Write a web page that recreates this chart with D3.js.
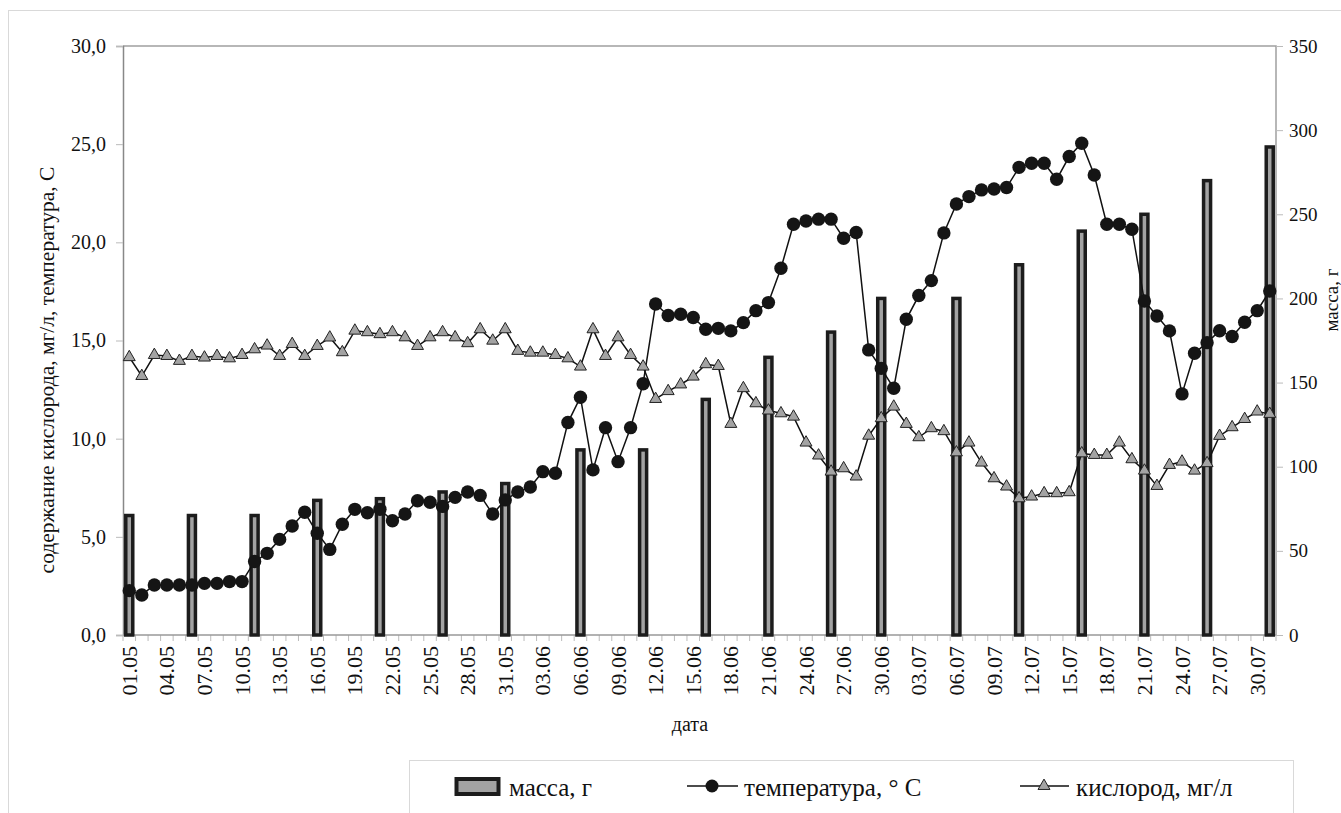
<!DOCTYPE html>
<html>
<head>
<meta charset="utf-8">
<script src="https://cdn.jsdelivr.net/npm/d3@7"></script>
<style>
  body { margin: 0; background: #fff; }
</style>
</head>
<body>
<div id="chart"></div>
<script>
// dates 01.05 .. 31.07
var months = [['05', 31], ['06', 30], ['07', 31]];
var dates = [];
months.forEach(function (m) {
  for (var d = 1; d <= m[1]; d++) dates.push((d < 10 ? '0' : '') + d + '.' + m[0]);
});

var temperature = [
  2.26, 2.04, 2.55, 2.55, 2.55, 2.55, 2.63, 2.63, 2.72, 2.72,
  3.74, 4.16, 4.87, 5.55, 6.25, 5.18, 4.36, 5.64, 6.40, 6.23,
  6.40, 5.82, 6.16, 6.84, 6.76, 6.55, 7.01, 7.28, 7.11, 6.16,
  6.88, 7.28, 7.54, 8.32, 8.24, 10.82, 12.11, 8.41, 10.56, 8.83,
  10.56, 12.80, 16.86, 16.27, 16.34, 16.17, 15.57, 15.62, 15.49, 15.91,
  16.52, 16.93, 18.68, 20.92, 21.09, 21.18, 21.18, 20.21, 20.50, 14.52,
  13.58, 12.57, 16.08, 17.29, 18.05, 20.48, 21.95, 22.33, 22.67, 22.72,
  22.79, 23.82, 24.03, 24.03, 23.21, 24.37, 25.05, 23.43, 20.92, 20.92,
  20.67, 17.01, 16.25, 15.49, 12.28, 14.35, 14.89, 15.50, 15.20, 15.93,
  16.52, 17.52
];

var oxygen = [
  14.15, 13.19, 14.26, 14.21, 13.96, 14.21, 14.13, 14.21, 14.09, 14.26,
  14.55, 14.74, 14.21, 14.82, 14.21, 14.72, 15.15, 14.40, 15.50, 15.42,
  15.32, 15.42, 15.16, 14.72, 15.16, 15.42, 15.16, 14.86, 15.57, 14.99,
  15.57, 14.47, 14.38, 14.38, 14.26, 14.09, 13.67, 15.57, 14.21, 15.16,
  14.26, 13.67, 12.02, 12.42, 12.76, 13.16, 13.79, 13.70, 10.75, 12.57,
  11.80, 11.43, 11.29, 11.12, 9.80, 9.14, 8.32, 8.49, 8.07, 10.15,
  11.04, 11.63, 10.75, 10.07, 10.53, 10.38, 9.30, 9.80, 8.78, 7.98,
  7.56, 6.96, 7.05, 7.22, 7.22, 7.27, 9.25, 9.17, 9.17, 9.80,
  8.95, 8.37, 7.59, 8.66, 8.83, 8.37, 8.75, 10.14, 10.58, 11.00,
  11.38, 11.26
];

var massDates = ['01.05', '06.05', '11.05', '16.05', '21.05', '26.05', '31.05', '06.06', '11.06', '16.06',
  '21.06', '26.06', '30.06', '06.07', '11.07', '16.07', '21.07', '26.07', '31.07'];
var massValues = [71, 71, 71, 80, 81, 85, 90, 110, 110, 140,
  165, 180, 200, 200, 220, 240, 250, 270, 290];

var leftTicks = [0, 5, 10, 15, 20, 25, 30];
var rightTicks = [0, 50, 100, 150, 200, 250, 300, 350];

var W = 1341, H = 813;
var L = 123, R = 1276, T = 46, B = 635;
var serif = 'Liberation Serif, Times New Roman, Tinos, Times, Noto Serif, DejaVu Serif, serif';

var svg = d3.select('#chart').append('svg')
  .attr('width', W).attr('height', H);

// outer frame
svg.append('rect').attr('x', 8.5).attr('y', 10.5).attr('width', 1400).attr('height', 900)
  .attr('fill', 'none').attr('stroke', '#d9d9d9');

var x = d3.scaleBand().domain(dates).range([L, R]).paddingInner(0).paddingOuter(0);
var yL = d3.scaleLinear().domain([0, 30]).range([B, T]);
var yR = d3.scaleLinear().domain([0, 350]).range([B, T]);
var cx = function (d) { return x(d) + x.bandwidth() / 2; };

// plot frame
svg.append('path')
  .attr('d', 'M' + L + ',' + T + 'H' + R + 'V' + B)
  .attr('fill', 'none').attr('stroke', '#a0a0a0').attr('stroke-width', 1.5);

// left axis
var axL = svg.append('g').attr('transform', 'translate(' + L + ',0)')
  .call(d3.axisLeft(yL).tickValues(leftTicks).tickSize(7).tickPadding(10)
    .tickFormat(function (d) { return d3.format('.1f')(d).replace('.', ','); }));
axL.attr('font-family', null).attr('font-size', null);
axL.select('.domain').attr('stroke', '#888').attr('stroke-width', 1.5);
axL.selectAll('.tick line').attr('stroke', '#bbb');
axL.selectAll('text').attr('font-size', 20).attr('font-family', serif).attr('fill', '#111');

// right axis
var axR = svg.append('g').attr('transform', 'translate(' + R + ',0)')
  .call(d3.axisRight(yR).tickValues(rightTicks).tickSize(7).tickPadding(6));
axR.attr('font-family', null).attr('font-size', null);
axR.select('.domain').remove();
axR.selectAll('.tick line').attr('stroke', '#bbb');
axR.selectAll('text').attr('font-size', 19).attr('font-family', serif).attr('fill', '#111');

// bottom axis: ticks at every category boundary
var xb = svg.append('g').attr('transform', 'translate(0,' + B + ')');
xb.selectAll('line.tk').data(dates).enter().append('line')
  .attr('x1', function (d) { return x(d); }).attr('x2', function (d) { return x(d); })
  .attr('y1', 0).attr('y2', 6).attr('stroke', '#bbb');
xb.append('line').attr('x1', R).attr('x2', R).attr('y1', 0).attr('y2', 6).attr('stroke', '#bbb');
xb.append('line').attr('x1', L).attr('x2', R).attr('stroke', '#999').attr('stroke-width', 1.5);
xb.selectAll('text.lab').data(dates.filter(function (d, i) { return i % 3 === 0; }))
  .enter().append('text')
  .attr('transform', function (d) { return 'translate(' + cx(d) + ',11) rotate(-90)'; })
  .attr('text-anchor', 'end').attr('dominant-baseline', 'central')
  .attr('font-size', 22).attr('font-family', serif).attr('fill', '#111')
  .text(function (d) { return d; });

// bars (mass)
var bw = 7;
svg.append('g').selectAll('rect').data(massDates).enter().append('rect')
  .attr('x', function (d) { return cx(d) - bw / 2; })
  .attr('y', function (d, i) { return yR(massValues[i]); })
  .attr('width', bw)
  .attr('height', function (d, i) { return B - yR(massValues[i]); })
  .attr('fill', '#a3a3a3').attr('stroke', '#1c1c1c').attr('stroke-width', 3.5);

// temperature
var lineT = d3.line().x(function (d, i) { return cx(dates[i]); }).y(function (d) { return yL(d); });
svg.append('path').datum(temperature).attr('d', lineT)
  .attr('fill', 'none').attr('stroke', '#111').attr('stroke-width', 1.5);
svg.append('g').selectAll('circle').data(temperature).enter().append('circle')
  .attr('cx', function (d, i) { return cx(dates[i]); })
  .attr('cy', function (d) { return yL(d); })
  .attr('r', 6.7).attr('fill', '#151515');

// oxygen
var lineO = d3.line().x(function (d, i) { return cx(dates[i]); }).y(function (d) { return yL(d); });
svg.append('path').datum(oxygen).attr('d', lineO)
  .attr('fill', 'none').attr('stroke', '#111').attr('stroke-width', 1.5);
var tri = d3.symbol().type(d3.symbolTriangle).size(62);
svg.append('g').selectAll('path').data(oxygen).enter().append('path')
  .attr('d', tri)
  .attr('transform', function (d, i) { return 'translate(' + cx(dates[i]) + ',' + yL(d) + ')'; })
  .attr('fill', '#a3a3a3').attr('stroke', '#222').attr('stroke-width', 1);

// axis titles
function label(sel, size) {
  return sel.attr('font-size', size).attr('font-family', serif).attr('fill', '#111');
}
label(svg.append('text').attr('transform', 'translate(47,370) rotate(-90)')
  .attr('text-anchor', 'middle').attr('dominant-baseline', 'central'), 21.5)
  .text('содержание кислорода, мг/л, температура, С');
label(svg.append('text').attr('transform', 'translate(1331,300) rotate(-90)')
  .attr('text-anchor', 'middle').attr('dominant-baseline', 'central'), 19)
  .text('масса, г');
label(svg.append('text').attr('x', 690).attr('y', 731)
  .attr('text-anchor', 'middle'), 20).text('дата');

// legend
var lg = svg.append('g');
lg.append('rect').attr('x', 409.5).attr('y', 760.5).attr('width', 884).attr('height', 80)
  .attr('fill', '#fff').attr('stroke', '#d9d9d9');
lg.append('rect').attr('x', 456.5).attr('y', 779).attr('width', 42).attr('height', 15)
  .attr('fill', '#a3a3a3').attr('stroke', '#1c1c1c').attr('stroke-width', 4);
label(lg.append('text').attr('x', 509).attr('y', 796), 25).text('масса, г');
lg.append('line').attr('x1', 687).attr('x2', 738).attr('y1', 786).attr('y2', 786)
  .attr('stroke', '#111').attr('stroke-width', 1.5);
lg.append('circle').attr('cx', 712).attr('cy', 786).attr('r', 6.5).attr('fill', '#151515');
label(lg.append('text').attr('x', 744).attr('y', 796), 25).text('температура, ° С');
lg.append('line').attr('x1', 1020).attr('x2', 1069).attr('y1', 786).attr('y2', 786)
  .attr('stroke', '#111').attr('stroke-width', 1.5);
lg.append('path').attr('d', tri).attr('transform', 'translate(1044,786)')
  .attr('fill', '#a3a3a3').attr('stroke', '#222');
label(lg.append('text').attr('x', 1076).attr('y', 796), 25).text('кислород, мг/л');
</script>
</body>
</html>
